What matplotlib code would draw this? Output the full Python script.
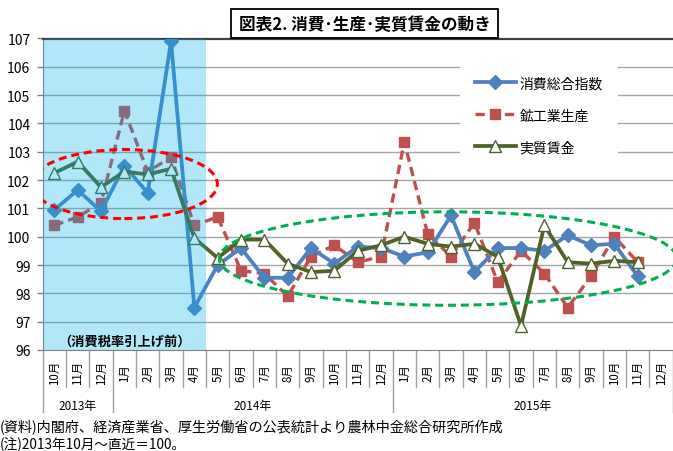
import numpy as np
import matplotlib
matplotlib.use("Agg")
import matplotlib.pyplot as plt
from matplotlib.patches import Ellipse, Rectangle
from matplotlib.transforms import blended_transform_factory

plt.rcParams['font.family'] = ['Noto Sans CJK JP', 'DejaVu Sans']

# --- data (2013/10 = 100) ---
months = ["10月", "11月", "12月"] + ["%d月" % m for m in range(1, 13)] * 2
years = ["2013年", "2014年", "2015年"]
year_spans = [3, 12, 12]

nan = np.nan
consumption = [100.95, 101.65, 100.9, 102.5, 101.55, 106.9, 97.5,
               99.0, 99.6, 98.55, 98.55, 99.6, 99.05, 99.65, 99.6,
               99.3, 99.45, 100.75, 98.75, 99.6, 99.6, 99.5, 100.05,
               99.7, 99.75, 98.6, nan]
production = [100.4, 100.7, 101.2, 104.45, 102.3, 102.8, 100.4,
              100.7, 98.8, 98.7, 97.9, 99.3, 99.7, 99.1, 99.3,
              103.35, 100.1, 99.3, 100.5, 98.4, 99.5, 98.7, 97.5,
              98.6, 100.0, 99.1, nan]
wages = [102.25, 102.65, 101.75, 102.3, 102.2, 102.4, 99.95,
         99.25, 99.9, 99.9, 99.05, 98.75, 98.8, 99.5, 99.7,
         100.0, 99.75, 99.65, 99.75, 99.3, 96.85, 100.4, 99.1,
         99.05, 99.15, 99.1, nan]
labels = ["消費総合指数", "鉱工業生産", "実質賃金"]

W, H = 673, 452
fig = plt.figure(figsize=(W / 100, H / 100), dpi=100)
ax = fig.add_axes([42.7 / W, 1 - 351 / H, 630 / W, 311.5 / H])

x = np.arange(len(months))
ax.set_xlim(-0.5, len(months) - 0.5)
ax.set_ylim(96, 107)

# grid
for g in range(97, 107):
    ax.axhline(g, color='#A6A6A6', lw=1.0, zorder=1)

l1, = ax.plot(x, consumption, color='#4F81BD', lw=2.7, marker='D', ms=7,
              zorder=4, label=labels[0])
l2, = ax.plot(x, production, color='#C0504D', lw=2.4, marker='s', ms=7,
              dashes=(2.8, 1.6), zorder=3, label=labels[1])
l3, = ax.plot(x, wages, color='#4F6228', lw=2.7, marker='^', ms=9,
              mfc='white', mec='#4F6228', mew=1.0, zorder=4, label=labels[2])

# before consumption-tax hike
ax.axvspan(-0.5, 6.5, color='#00B0F0', alpha=0.3, lw=0, zorder=5)
ax.text(3.0, 96.32, "（消費税率引上げ前）", ha='center', va='center',
        fontsize=9.5, fontweight='bold', zorder=7)

ax.add_patch(Ellipse((3.0, 101.86), 7.97, 2.44, fill=False, ec='#FF0000',
                     lw=2.2, ls=(0, (2.6, 1.6)), zorder=6))
ax.add_patch(Ellipse((16.87, 99.23), 19.6, 3.3, fill=False, ec='#00B050',
                     lw=2.2, ls=(0, (2.6, 1.6)), zorder=6))

# axes styling
ax.set_yticks(range(96, 108))
ax.tick_params(axis='y', length=4.3, width=1, color='#808080', pad=4.5,
               labelsize=10)
ax.set_xticks([])
ax.spines['right'].set_visible(False)
ax.spines['left'].set_color('#808080')
ax.spines['bottom'].set_color('#808080')
ax.spines['top'].set_color('#404040')
ax.spines['top'].set_linewidth(1.6)

# category axis: month labels, dividers, years
tr = blended_transform_factory(ax.transData, ax.transAxes)
bounds = np.cumsum([0] + year_spans)
for k in range(len(months) + 1):
    low = -0.199 if k in bounds else -0.119
    ax.plot([k - 0.5, k - 0.5], [0, low], transform=tr, color='#A0A0A0',
            lw=1.0, clip_on=False)
for i, m in enumerate(months):
    ax.text(i, -0.071, m, transform=tr, rotation=90, ha='center',
            va='center', fontsize=8.3)
for j, yl in enumerate(years):
    ax.text((bounds[j] + bounds[j + 1]) / 2 - 0.5, -0.177, yl, transform=tr,
            ha='center', va='center', fontsize=8.5)

leg = ax.legend(handles=[l1, l2, l3], loc='upper left',
                bbox_to_anchor=(453 / W, 1 - 55 / H),
                bbox_transform=fig.transFigure, fontsize=10, numpoints=1,
                handlelength=2.9, handletextpad=0.3, labelspacing=1.3,
                borderpad=1.1, fancybox=False, framealpha=1,
                facecolor='white', edgecolor='none')
leg.set_zorder(10)

# title box
fig.patches.append(Rectangle((231 / W, 1 - 39 / H), 267 / W, 29 / H,
                             transform=fig.transFigure, fc='white',
                             ec='black', lw=1.3, zorder=10))
fig.text(364.5 / W, 1 - 25 / H, "図表2. 消費･生産･実質賃金の動き",
         ha='center', va='center', fontsize=12, fontweight='bold', zorder=11)

# notes
fig.text(0.0, 1 - 428 / H,
         "(資料)内閣府、経済産業省、厚生労働省の公表統計より農林中金総合研究所作成",
         ha='left', va='center', fontsize=10.2)
fig.text(0.0, 1 - 445 / H, "(注)2013年10月～直近＝100。",
         ha='left', va='center', fontsize=9.8)

fig.savefig("out.png", dpi=100)
